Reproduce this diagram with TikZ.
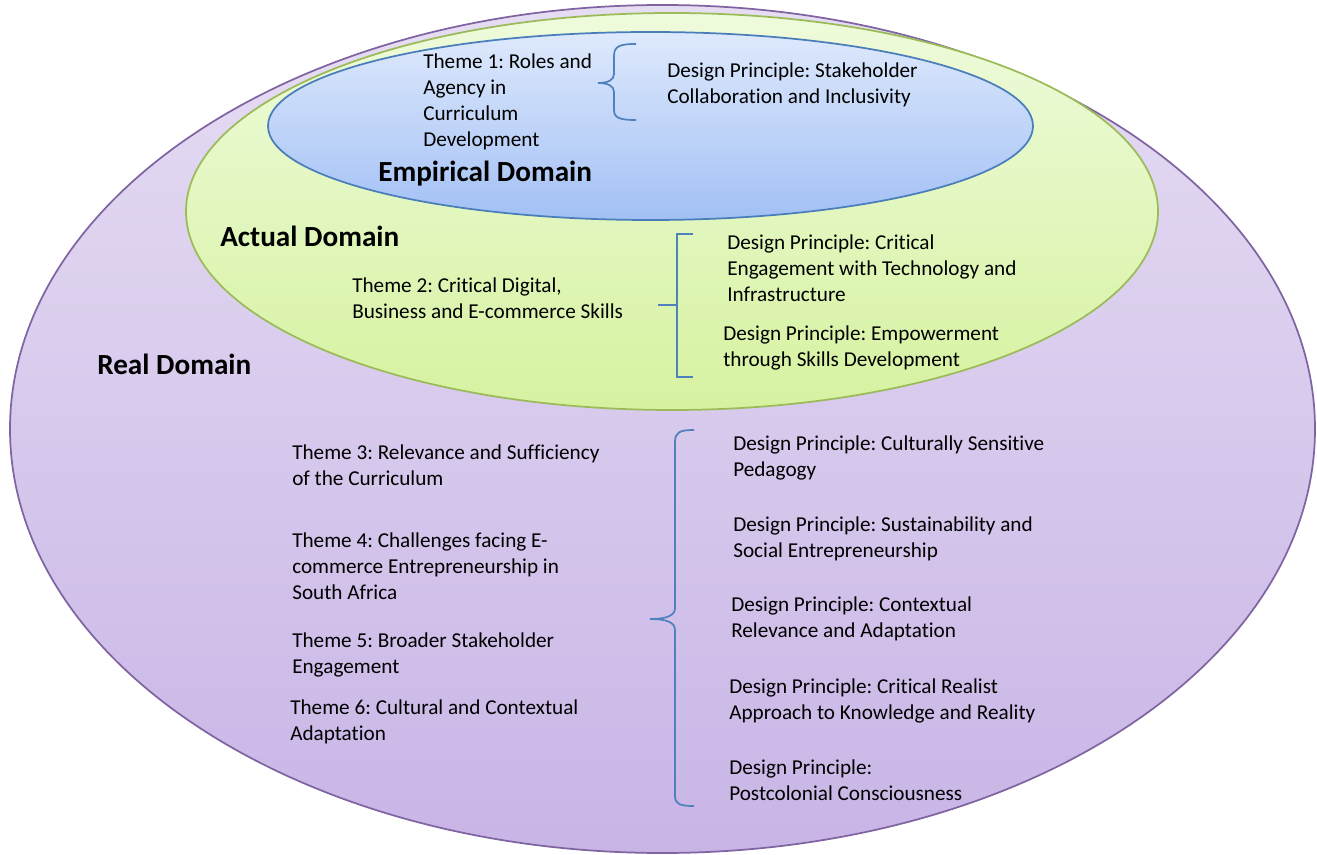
\documentclass[tikz,border=0pt]{standalone}
\usepackage{fontspec}
\setmainfont{Carlito}[Ligatures=NoCommon]
\frenchspacing

\definecolor{lilaRand}{HTML}{8064A2}
\definecolor{lilaOben}{HTML}{E6DDF3}
\definecolor{lilaUnten}{HTML}{C8B5E6}
\definecolor{gruenRand}{HTML}{9BBB59}
\definecolor{gruenOben}{HTML}{EEFBDC}
\definecolor{gruenUnten}{HTML}{D6F2A0}
\definecolor{blauRand}{HTML}{4A7EBB}
\definecolor{blauOben}{HTML}{DEE9FC}
\definecolor{blauUnten}{HTML}{A2C0F5}
\definecolor{klammerFarbe}{HTML}{4F81BD}

\begin{document}
\begin{tikzpicture}[x=0.75pt, y=-0.75pt,
    txt/.style={anchor=north west, inner sep=0pt, align=left,
                font=\fontsize{15.9pt}{19.4pt}\selectfont},
    titel/.style={anchor=north west, inner sep=0pt,
                font=\fontsize{21.9pt}{26pt}\selectfont\bfseries},
    klammer/.style={klammerFarbe, line width=1.3pt}]
  \useasboundingbox (0,0) rectangle (1317,855);

  % Ellipsen (Real, Actual, Empirical)
  \shade[top color=lilaOben, bottom color=lilaUnten, draw=lilaRand, line width=1.3pt]
    (662.5,429) ellipse (652.5 and 424);
  \shade[top color=gruenOben, bottom color=gruenUnten, draw=gruenRand, line width=1.3pt]
    (672,211.5) ellipse (486 and 198.5);
  \shade[top color=blauOben, bottom color=blauUnten, draw=blauRand, line width=1.3pt]
    (650.5,126) ellipse (382.5 and 94);

  % Empirical Domain
  \node[txt] (thema1) at (423,54) {Theme 1: Roles and\\Agency in\\Curriculum\\Development};
  \node[txt] (dp1) at (667,63) {Design Principle: Stakeholder\\Collaboration and Inclusivity};
  \node[titel] (empirisch) at (378,161) {Empirical Domain};
  \draw[klammer] (636,44) .. controls (620,44) and (614,46) .. (614,56) -- (614,74)
    .. controls (614,80) and (608,83) .. (598,83)
    .. controls (608,83) and (614,86) .. (614,92) -- (614,110)
    .. controls (614,118) and (620,120) .. (636,120);

  % Actual Domain
  \node[titel] (aktuell) at (220,226) {Actual Domain};
  \node[txt] (thema2) at (352,278) {Theme 2: Critical Digital,\\Business and E-commerce Skills};
  \node[txt] (dp2) at (727,235) {Design Principle: Critical\\Engagement with Technology and\\Infrastructure};
  \node[txt] (dp3) at (723,326) {Design Principle: Empowerment\\through Skills Development};
  \draw[klammer] (693,234) -- (677,234) -- (677,377) -- (693,377);
  \draw[klammer] (658,305) -- (677,305);

  % Real Domain
  \node[titel] (real) at (97,354) {Real Domain};
  \node[txt] (thema3) at (292,445) {Theme 3: Relevance and Sufficiency\\of the Curriculum};
  \node[txt] (thema4) at (292,533) {Theme 4: Challenges facing E-\\commerce Entrepreneurship in\\South Africa};
  \node[txt] (thema5) at (292,633) {Theme 5: Broader Stakeholder\\Engagement};
  \node[txt] (thema6) at (290,700) {Theme 6: Cultural and Contextual\\Adaptation};

  \foreach \n/\x/\y/\t in {4/733/436/{Culturally Sensitive\\Pedagogy},
                           5/733/517/{Sustainability and\\Social Entrepreneurship},
                           6/731/597/{Contextual\\Relevance and Adaptation},
                           7/729/679/{Critical Realist\\Approach to Knowledge and Reality},
                           8/729/760/{\\Postcolonial Consciousness}}
    \node[txt] (dp\n) at (\x,\y) {Design Principle: \t};

  \draw[klammer] (694,430) .. controls (680,430) and (675,432) .. (675,442) -- (675,608)
    .. controls (675,615) and (668,619) .. (650,619)
    .. controls (668,619) and (675,623) .. (675,630) -- (675,796)
    .. controls (675,804) and (680,806) .. (694,806);

\end{tikzpicture}
\end{document}
